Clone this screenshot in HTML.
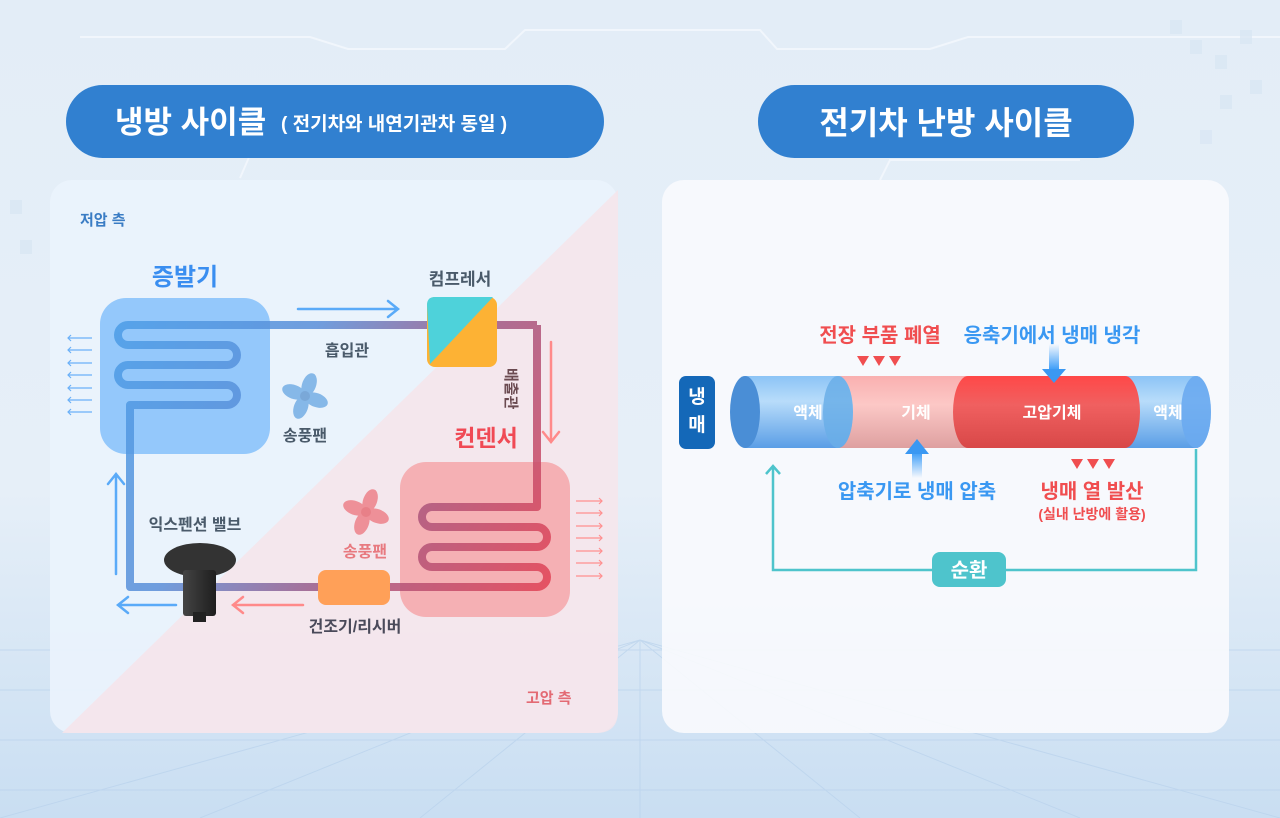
<!DOCTYPE html>
<html><head><meta charset="utf-8"><style>
html,body{margin:0;padding:0}
body{width:1280px;height:818px;overflow:hidden;background:linear-gradient(180deg,#e3edf7 0%,#e6eff8 60%,#c9def2 100%);font-family:"Liberation Sans","Noto Sans CJK KR",sans-serif}
svg{display:block}
svg text{font-family:"Liberation Sans","Noto Sans CJK KR",sans-serif;font-weight:700}
</style></head><body>
<svg width="1280" height="818" viewBox="0 0 1280 818" xmlns="http://www.w3.org/2000/svg">
<defs>
<linearGradient id="pipeL" x1="100" y1="320" x2="560" y2="600" gradientUnits="userSpaceOnUse">
<stop offset="0" stop-color="#4a9ee8"/><stop offset="0.35" stop-color="#5a8ed8"/><stop offset="0.6" stop-color="#9a5a88"/><stop offset="1" stop-color="#e84050"/></linearGradient>
<linearGradient id="cylB" x1="0" y1="0" x2="0" y2="1"><stop offset="0" stop-color="#8cc4f6"/><stop offset="0.35" stop-color="#b8dcfa"/><stop offset="1" stop-color="#5a9ee6"/></linearGradient>
<linearGradient id="cylP" x1="0" y1="0" x2="0" y2="1"><stop offset="0" stop-color="#f9b0b0"/><stop offset="0.4" stop-color="#fcc8c6"/><stop offset="1" stop-color="#dea0a0"/></linearGradient>
<linearGradient id="cylR" x1="0" y1="0" x2="0" y2="1"><stop offset="0" stop-color="#ff4848"/><stop offset="0.4" stop-color="#f06060"/><stop offset="1" stop-color="#d84848"/></linearGradient>
<linearGradient id="arrB" x1="0" y1="0" x2="0" y2="1"><stop offset="0" stop-color="#3a9cf8" stop-opacity="0"/><stop offset="1" stop-color="#3a9cf8"/></linearGradient>
<linearGradient id="arrU" x1="0" y1="1" x2="0" y2="0"><stop offset="0" stop-color="#3a9cf8" stop-opacity="0"/><stop offset="1" stop-color="#3a9cf8"/></linearGradient>
<linearGradient id="valve" x1="0" y1="0" x2="1" y2="0"><stop offset="0" stop-color="#444"/><stop offset="1" stop-color="#1e1e1e"/></linearGradient>
</defs>
<g stroke="#f4f8fc" stroke-width="2" fill="none" opacity="0.8">
<path d="M80 37 H310 L348 49 H505 L525 30 H760 L777 49 H930 L968 37 H1280"/>
<path d="M240 178 L250 155 H550"/><path d="M880 180 L890 160 H1080"/>
</g>
<g fill="#d8e6f3" opacity="0.7">
<rect x="1170" y="20" width="12" height="14"/><rect x="1190" y="40" width="12" height="14"/><rect x="1215" y="55" width="12" height="14"/><rect x="1240" y="30" width="12" height="14"/><rect x="1220" y="95" width="12" height="14"/><rect x="1250" y="80" width="12" height="14"/><rect x="1200" y="130" width="12" height="14"/><rect x="10" y="200" width="12" height="14"/><rect x="20" y="240" width="12" height="14"/></g>
<g stroke="#b9d2ec" stroke-width="1" opacity="0.7">
<path d="M0 650 H1280 M0 690 H1280 M0 740 H1280 M0 790 H1280"/>
<path d="M640 640 L0 818 M640 640 L200 818 M640 640 L420 818 M640 640 L640 818 M640 640 L860 818 M640 640 L1080 818 M640 640 L1280 818"/>
</g>

<rect x="66" y="85" width="538" height="73" rx="36.5" fill="#3180d0"/>
<text x="115" y="133" font-size="31" fill="#fff">냉방 사이클</text>
<text x="281" y="130" font-size="19" fill="#fff" font-weight="400">( 전기차와 내연기관차 동일 )</text>
<rect x="758" y="85" width="376" height="73" rx="36.5" fill="#3180d0"/>
<text x="946" y="134" font-size="32" fill="#fff" text-anchor="middle">전기차 난방 사이클</text>

<rect x="50" y="180" width="568" height="553" rx="22" fill="#eaf3fc" fill-opacity="0.92"/>
<path d="M618 190 L618 711 Q618 733 596 733 L62 733 Z" fill="#f6e4ea" opacity="0.85"/>
<text x="80" y="225" font-size="15" fill="#3a7cc4">저압 측</text>
<text x="526" y="703" font-size="15" fill="#e36a74">고압 측</text>

<rect x="100" y="298" width="170" height="156" rx="26" fill="#94c8fb"/>
<rect x="400" y="462" width="170" height="155" rx="26" fill="#f5b0b4"/>
<text x="185" y="285" font-size="24" fill="#3a8ef0" text-anchor="middle">증발기</text>
<text x="460" y="285" font-size="17" fill="#4a5a6a" text-anchor="middle">컴프레서</text>
<text x="347" y="356" font-size="16" fill="#4a5a6a" text-anchor="middle">흡입관</text>
<text x="486" y="446" font-size="23" fill="#f04a55" text-anchor="middle">컨덴서</text>
<text x="305" y="441" font-size="16" fill="#4a5a6a" text-anchor="middle">송풍팬</text>
<text x="365" y="557" font-size="16" fill="#e87a80" text-anchor="middle">송풍팬</text>
<text x="195" y="530" font-size="16" fill="#4a5a6a" text-anchor="middle">익스펜션 밸브</text>
<text x="355" y="632" font-size="16" fill="#4a4a5a" text-anchor="middle">건조기/리시버</text>
<text x="506" y="368" font-size="15" fill="#6a4a50" transform="rotate(90 506 368)">배출관</text>

<path d="M537 325 H128 a10 10 0 0 0 0 20 H227 a10 10 0 0 1 0 20 H128 a10 10 0 0 0 0 20 H227 a10 10 0 0 1 0 20 H130 V587 H537 a10 10 0 0 0 0 -20 H432 a10 10 0 0 1 0 -20 H537 a10 10 0 0 0 0 -20 H432 a10 10 0 0 1 0 -20 H537 V325" fill="none" stroke="url(#pipeL)" stroke-width="8" stroke-linejoin="round" opacity="0.85"/>

<rect x="427" y="297" width="70" height="70" rx="8" fill="#fdb234"/>
<path d="M427 305 Q427 297 435 297 H493 L430 364 Z" fill="#4ed2da"/>
<rect x="318" y="570" width="72" height="35" rx="8" fill="#ffa058"/>
<ellipse cx="200" cy="560" rx="36" ry="17" fill="#333"/>
<rect x="183" y="570" width="33" height="46" rx="3" fill="url(#valve)"/>
<rect x="193" y="612" width="13" height="10" fill="#222"/>

<g transform="translate(305 396)" fill="#86b8e8">
<ellipse cx="0" cy="-12" rx="7" ry="12" transform="rotate(20)"/><ellipse cx="0" cy="-12" rx="7" ry="12" transform="rotate(110)"/><ellipse cx="0" cy="-12" rx="7" ry="12" transform="rotate(200)"/><ellipse cx="0" cy="-12" rx="7" ry="12" transform="rotate(290)"/><circle r="5" fill="#7aa8d8"/></g>
<g transform="translate(366 512)" fill="#ee9098">
<ellipse cx="0" cy="-12" rx="7" ry="12" transform="rotate(20)"/><ellipse cx="0" cy="-12" rx="7" ry="12" transform="rotate(110)"/><ellipse cx="0" cy="-12" rx="7" ry="12" transform="rotate(200)"/><ellipse cx="0" cy="-12" rx="7" ry="12" transform="rotate(290)"/><circle r="5" fill="#e88088"/></g>

<g fill="none" stroke-width="2.5" stroke-linecap="round">
<path d="M298 309 H398 M388 301 L398 309 L388 317" stroke="#5aaaf8"/>
<path d="M551 342 V442 M543 432 L551 442 L559 432" stroke="#ff8a8a"/>
<path d="M116 574 V474 M108 484 L116 474 L124 484" stroke="#5aaaf8"/>
<path d="M176 605 H118 M128 597 L118 605 L128 613" stroke="#5aaaf8"/>
<path d="M303 605 H233 M243 597 L233 605 L243 613" stroke="#ff8a8a"/>
</g>
<g stroke="#6ab0f8" stroke-width="1.2" fill="none">
<path d="M68 338 H92 M68 350 H92 M68 363 H92 M68 375 H92 M68 388 H92 M68 400 H92 M68 412 H92"/>
<path d="M71 335 L68 338 L71 341 M71 347 L68 350 L71 353 M71 360 L68 363 L71 366 M71 372 L68 375 L71 378 M71 385 L68 388 L71 391 M71 397 L68 400 L71 403 M71 409 L68 412 L71 415"/>
</g>
<g stroke="#ff9090" stroke-width="1.2" fill="none">
<path d="M576 501 H602 M576 513 H602 M576 526 H602 M576 538 H602 M576 551 H602 M576 563 H602 M576 576 H602"/>
<path d="M599 498 L602 501 L599 504 M599 510 L602 513 L599 516 M599 523 L602 526 L599 529 M599 535 L602 538 L599 541 M599 548 L602 551 L599 554 M599 560 L602 563 L599 566 M599 573 L602 576 L599 579"/>
</g>

<rect x="662" y="180" width="567" height="553" rx="22" fill="#f8fafd" fill-opacity="0.92"/>
<rect x="679" y="376" width="36" height="73" rx="7" fill="#1468b8"/>
<text x="697" y="403" font-size="19" fill="#fff" text-anchor="middle">냉</text>
<text x="697" y="431" font-size="19" fill="#fff" text-anchor="middle">매</text>

<!-- cylinder -->
<path d="M1110 376 H1196 A15 36 0 0 1 1196 448 H1110 Z" fill="url(#cylB)"/>
<path d="M838 376 H975 V448 H838 Z" fill="url(#cylP)"/>
<path d="M745 376 H838 A15 36 0 0 1 838 448 H745 Z" fill="url(#cylB)"/>
<ellipse cx="838" cy="412" rx="15" ry="36" fill="#6aaee8" opacity="0.85"/>
<path d="M968 376 H1125 A15 36 0 0 1 1125 448 H968 A15 36 0 0 1 968 376 Z" fill="url(#cylR)"/>
<ellipse cx="745" cy="412" rx="15" ry="36" fill="#4a8ed6"/>
<ellipse cx="1196" cy="412" rx="15" ry="36" fill="#6aaaf0" opacity="0.9"/>
<text x="808" y="418" font-size="16" fill="#fff" text-anchor="middle">액체</text>
<text x="916" y="418" font-size="16" fill="#fff" text-anchor="middle">기체</text>
<text x="1052" y="418" font-size="16" fill="#fff" text-anchor="middle">고압기체</text>
<text x="1168" y="418" font-size="16" fill="#fff" text-anchor="middle">액체</text>

<text x="880" y="342" font-size="20" fill="#f04e50" text-anchor="middle">전장 부품 폐열</text>
<text x="1052" y="342" font-size="20" fill="#3a98f2" text-anchor="middle">응축기에서 냉매 냉각</text>
<g fill="#f04e50"><path d="M857 356 h12 l-6 10z M873 356 h12 l-6 10z M889 356 h12 l-6 10z"/>
<path d="M1071 459 h12 l-6 10z M1087 459 h12 l-6 10z M1103 459 h12 l-6 10z"/></g>
<rect x="1049" y="344" width="10" height="26" fill="url(#arrB)"/>
<path d="M1042 369 H1066 L1054 383 Z" fill="#3a98f2"/>
<rect x="912" y="452" width="10" height="26" fill="url(#arrU)"/>
<path d="M905 454 H929 L917 439 Z" fill="#3a98f2"/>
<text x="917" y="498" font-size="20" fill="#3a98f2" text-anchor="middle">압축기로 냉매 압축</text>
<text x="1092" y="498" font-size="20" fill="#f04e50" text-anchor="middle">냉매 열 발산</text>
<text x="1092" y="519" font-size="14" fill="#f04e50" text-anchor="middle">(실내 난방에 활용)</text>

<path d="M1196 449 V570 H773 V466 M766 474 L773 466 L780 474" fill="none" stroke="#4ec4cc" stroke-width="2.5"/>
<rect x="932" y="552" width="74" height="35" rx="8" fill="#4ec4cc"/>
<text x="969" y="577" font-size="20" fill="#fff" text-anchor="middle">순환</text>
</svg>
</body></html>
